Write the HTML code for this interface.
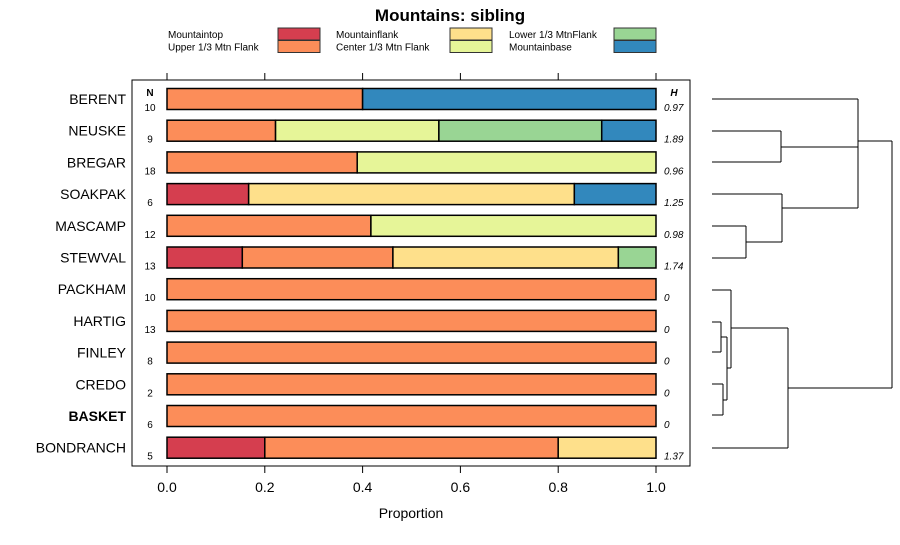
<!DOCTYPE html>
<html><head><meta charset="utf-8"><style>
body{margin:0;background:#fff;font-family:"Liberation Sans",sans-serif}
</style></head><body>
<svg id="c" width="900" height="540" xmlns="http://www.w3.org/2000/svg" font-family="Liberation Sans, sans-serif">
<text x="450" y="21" text-anchor="middle" font-size="17" font-weight="bold">Mountains: sibling</text>
<g id="legend"></g>
<rect x="132" y="80" width="558" height="386" fill="none" stroke="#000"/>
<g id="bars"></g>
<g id="axis"></g>
<text x="150" y="96" text-anchor="middle" font-size="10" font-weight="bold">N</text>
<text x="674" y="96" text-anchor="middle" font-size="10" font-weight="bold" font-style="italic">H</text>
<text x="411" y="518" text-anchor="middle" font-size="14">Proportion</text>
<path d="M712 99H858M712 131H781M712 162H781M781 131V162M781 147H858M712 194H782M712 226H746M712 258H746M746 226V258M746 242H782M782 194V242M782 208H858M858 99V208M858 141H892M712 290H731M712 322H721M712 352H721M721 322V352M721 337H727M712 384H723M712 415H723M723 384V415M723 400H727M727 337V400M727 368H731M731 290V368M731 328H788M712 448H788M788 328V448M788 388H892M892 141V388" fill="none" stroke="#000" stroke-width="1"/>
</svg>
<script>
const categories=["Mountaintop","Upper 1/3 Mtn Flank","Mountainflank","Center 1/3 Mtn Flank","Lower 1/3 MtnFlank","Mountainbase"];
const colors=["#d53e4f","#fc8d59","#fee08b","#e6f598","#99d594","#3288bd"];
const sites=["BERENT","NEUSKE","BREGAR","SOAKPAK","MASCAMP","STEWVAL","PACKHAM","HARTIG","FINLEY","CREDO","BASKET","BONDRANCH"];
const nVals=[10,9,18,6,12,13,10,13,8,2,6,5];
const hVals=["0.97","1.89","0.96","1.25","0.98","1.74","0","0","0","0","0","1.37"];
const props=[
[0,0.4,0,0,0,0.6],
[0,0.222,0,0.334,0.333,0.111],
[0,0.389,0,0.611,0,0],
[0,0.167,0,0,0,0],
[0,0.417,0,0.583,0,0],
[0.154,0.308,0.461,0,0.077,0],
[0,1,0,0,0,0],[0,1,0,0,0,0],[0,1,0,0,0,0],[0,1,0,0,0,0],[0,1,0,0,0,0],
[0.2,0.6,0.2,0,0,0]];
props[3]=[0.167,0,0.666,0,0,0.167];
const ticks=[0,0.2,0.4,0.6,0.8,1];
const tickLabels=["0.0","0.2","0.4","0.6","0.8","1.0"];
const NS="http://www.w3.org/2000/svg";
const xs=v=>167+v*489;
const ys=i=>99+i*31.7;
function mk(t,a,p){const e=document.createElementNS(NS,t);for(const k in a)e.setAttribute(k,a[k]);p.appendChild(e);return e;}
const bars=document.getElementById('bars');
sites.forEach((s,i)=>{
 const y=ys(i);let acc=0;
 props[i].forEach((v,j)=>{if(v<=0)return;
  const r=mk('rect',{x:xs(acc),y:y-10.5,width:xs(acc+v)-xs(acc),height:21,fill:colors[j],stroke:'#000','stroke-width':1.5},bars);
  
  
  acc+=v;});
 const l=mk('text',{x:126,y:y+5,'text-anchor':'end','font-size':14,'font-weight':s==='BASKET'?'bold':'normal'},bars);l.textContent=s;
 
 
 const n=mk('text',{x:150,y:y+12,'text-anchor':'middle','font-size':10},bars);n.textContent=nVals[i];
 
 
 const h=mk('text',{x:664,y:y+12,'font-size':10,'font-style':'italic'},bars);h.textContent=hVals[i];
 
 
});
const ax=document.getElementById('axis');
ticks.forEach((t,i)=>{
 const a=mk('line',{x1:xs(t),x2:xs(t),y1:73,y2:80,stroke:'#000'},ax);
 
 
 const b=mk('line',{x1:xs(t),x2:xs(t),y1:466,y2:473,stroke:'#000'},ax);
 
 
 const tl=mk('text',{x:xs(t),y:492,'text-anchor':'middle','font-size':14},ax);tl.textContent=tickLabels[i];
 
 
});
const lg=document.getElementById('legend');
const cols=[[168,278],[336,450],[509,614]];
categories.forEach((c,i)=>{
 const col=cols[Math.floor(i/2)],row=i%2;
 const t=mk('text',{x:col[0],y:38+row*12.5,'font-size':10},lg);t.textContent=c;
 
 
 const r=mk('rect',{x:col[1],y:28+row*12.5,width:42,height:12,fill:colors[i],stroke:'#333'},lg);
 
 
});
</script>
</body></html>
